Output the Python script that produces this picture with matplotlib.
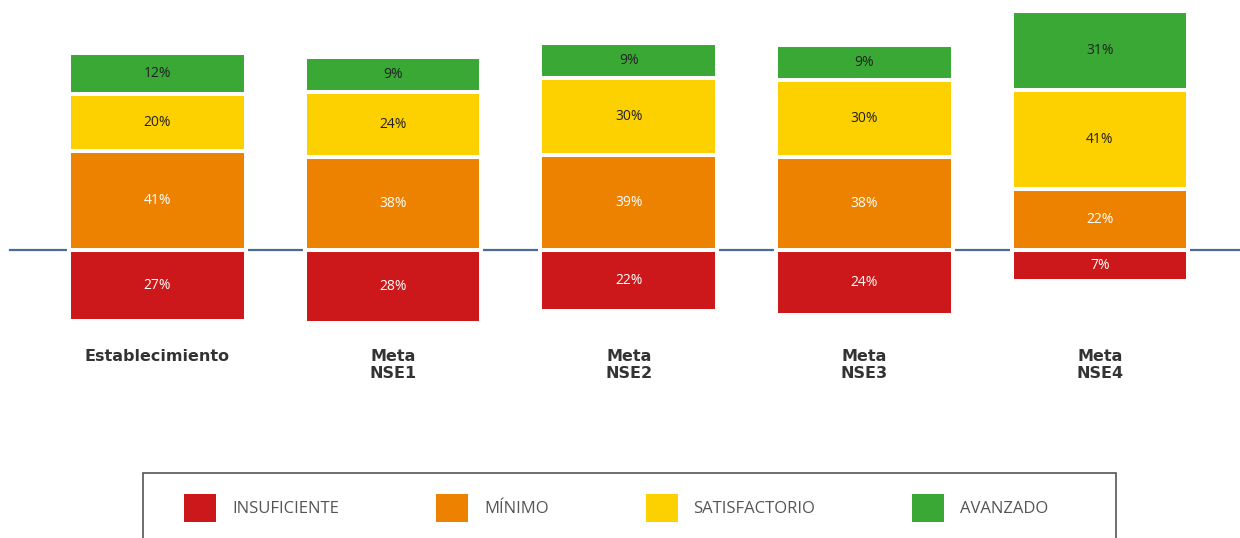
import numpy as np
import matplotlib
matplotlib.use("Agg")
import matplotlib.pyplot as plt
from matplotlib.patches import Rectangle, Patch

categories = ["Establecimiento", "Meta\nNSE1", "Meta\nNSE2", "Meta\nNSE3", "Meta\nNSE4"]
insuficiente = [27, 28, 22, 24, 7]
minimo = [41, 38, 39, 38, 22]
satisfactorio = [20, 24, 30, 30, 41]
avanzado = [12, 9, 9, 9, 31]

levels = ["INSUFICIENTE", "MÍNIMO", "SATISFACTORIO", "AVANZADO"]
colors = ["#cc181a", "#ec8200", "#fdd000", "#3aa835"]
label_colors = ["white", "white", "#222222", "#222222"]

plt.rcParams["font.family"] = ["Open Sans", "DejaVu Sans"]

W, H = 1240, 538
fig = plt.figure(figsize=(W / 100, H / 100), dpi=100)
ax = fig.add_axes([0, 1 - 330 / H, 1, 330 / H])

x = np.arange(len(categories))
width = 0.75
px_per_unit = 2.0
seg_pad = 8.5   # extra room per segment, like the original chart

# baseline
ax.axhline(0, xmin=10 / W, xmax=1, color="#4a6a9a", linewidth=1.6, zorder=1)

# below the line
low = np.array(insuficiente) + seg_pad
ax.bar(x, -low, width, color=colors[0], edgecolor="white", linewidth=2.9, zorder=2)
for i in x:
    ax.text(i, -low[i] / 2, f"{insuficiente[i]}%", ha="center", va="center",
            color=label_colors[0], fontsize=10, zorder=3)

# above the line, stacked
bottom = np.zeros(len(x))
for k, (vals, col) in enumerate(zip([minimo, satisfactorio, avanzado], colors[1:])):
    h = np.array(vals) + seg_pad
    ax.bar(x, h, width, bottom=bottom, color=col,
           edgecolor="white", linewidth=2.9, zorder=2)
    for i in x:
        ax.text(i, bottom[i] + h[i] / 2, f"{vals[i]}%", ha="center", va="center",
                color=label_colors[k + 1], fontsize=10, zorder=3)
    bottom += h

ax.set_xlim(-157.5 / 235.6, (W - 157.5) / 235.6)
ax.set_ylim(-80 / px_per_unit, 250 / px_per_unit)
ax.set_xticks(x)
ax.set_xticklabels(categories, fontsize=11.5, fontweight="bold", color="#333333",
                   family="DejaVu Sans", linespacing=1.1)
ax.tick_params(axis="x", length=0, pad=14)
ax.set_yticks([])
for s in ax.spines.values():
    s.set_visible(False)

# legend frame
frame = Rectangle((143 / W, 1 - 548 / H), (1116 - 143) / W, (548 - 473) / H,
                  transform=fig.transFigure, fill=False, edgecolor="#555555",
                  linewidth=1.2)
fig.add_artist(frame)

handles = [Patch(facecolor=c, edgecolor="none") for c in colors]
fs = 12
fpx = fs * 100 / 72
leg = fig.legend(handles, levels, loc="upper left",
                 bbox_to_anchor=(184 / W, 1 - 494 / H), ncol=4, frameon=False,
                 prop={"family": ["Open Sans"], "size": fs},
                 labelcolor="#555555",
                 handlelength=32 / fpx, handleheight=27 / fpx * 1.35,
                 handletextpad=16 / fpx, columnspacing=97 / fpx,
                 borderpad=0, borderaxespad=0)

fig.savefig("out.png", dpi=100)
